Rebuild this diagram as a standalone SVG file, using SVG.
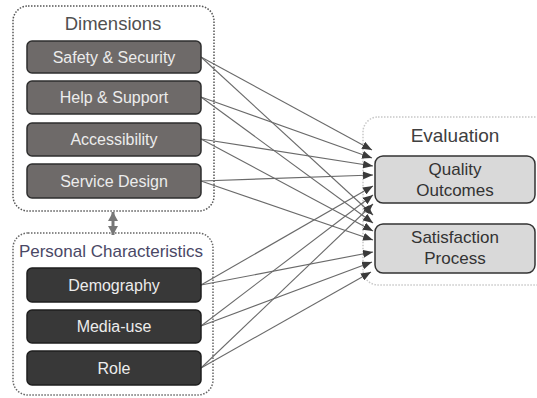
<svg xmlns="http://www.w3.org/2000/svg" width="537" height="398" viewBox="0 0 537 398">
<style>
.grp{fill:none;stroke-width:1.5;stroke-dasharray:1.5 1.5}
.ttl{font-family:"Liberation Sans",Arial,sans-serif;text-anchor:middle}
.dim rect{fill:#6e6a69;stroke:#2e2e2e;stroke-width:1.5}
.per rect{fill:#383838;stroke:#1e1e1e;stroke-width:1.5}
.eva rect{fill:#d9d9d9;stroke:#333;stroke-width:1.5}
.lt{font-family:"Liberation Sans",Arial,sans-serif;font-size:16px;text-anchor:middle;fill:#ececec}
.dt{font-family:"Liberation Sans",Arial,sans-serif;font-size:17px;text-anchor:middle;fill:#333}
.c{fill:none;stroke:#6a6a6a;stroke-width:1.1;marker-end:url(#ah)}
</style>
<defs>
<marker id="ah" markerWidth="10" markerHeight="8" refX="10" refY="4" orient="auto" markerUnits="userSpaceOnUse">
<path d="M0,0 L10,4 L0,8 Z" fill="#3a3a3a"/>
</marker>
<marker id="dh" markerWidth="9" markerHeight="10" refX="9" refY="5" orient="auto-start-reverse" markerUnits="userSpaceOnUse">
<path d="M0,0 L9,5 L0,10 Z" fill="#777"/>
</marker>
</defs>
<rect width="537" height="398" fill="#fff"/>

<g id="group-dimensions">
<rect class="grp" x="13" y="6" width="201" height="205" rx="15" stroke="#555"/>
<text class="ttl" x="113" y="30" font-size="18.5" fill="#505050">Dimensions</text>
</g>
<g id="group-personal">
<rect class="grp" x="13" y="233" width="200" height="162" rx="15" stroke="#666"/>
<text class="ttl" x="111" y="257" font-size="17" fill="#4a4866">Personal Characteristics</text>
</g>
<g id="group-evaluation">
<rect class="grp" x="363" y="117" width="190" height="168" rx="15" stroke="#c8c8c8"/>
<text class="ttl" x="455" y="142" font-size="19" fill="#404040">Evaluation</text>
</g>

<g id="connectors">
<path class="c" d="M201,57 L372,150"/>
<path class="c" d="M201,57 L373,215"/>
<path class="c" d="M201,97 L372,158"/>
<path class="c" d="M201,97 L373,223"/>
<path class="c" d="M201,139 L373,166"/>
<path class="c" d="M201,139 L373,231"/>
<path class="c" d="M201,181 L373,175"/>
<path class="c" d="M201,181 L373,240"/>
<path class="c" d="M201,285 L373,186"/>
<path class="c" d="M201,285 L373,252"/>
<path class="c" d="M201,326 L373,195"/>
<path class="c" d="M201,326 L372,262"/>
<path class="c" d="M201,368 L373,204"/>
<path class="c" d="M201,368 L371,272"/>
<line x1="113" y1="212" x2="113" y2="235" stroke="#777" stroke-width="3" marker-start="url(#dh)" marker-end="url(#dh)"/>
</g>

<g id="node-safety" class="dim"><rect x="27" y="41" width="174" height="32" rx="5"/><text class="lt" x="114" y="63">Safety &amp; Security</text></g>
<g id="node-help" class="dim"><rect x="27" y="81" width="174" height="33" rx="5"/><text class="lt" x="114" y="103">Help &amp; Support</text></g>
<g id="node-accessibility" class="dim"><rect x="27" y="123" width="174" height="33" rx="5"/><text class="lt" x="114" y="145">Accessibility</text></g>
<g id="node-service" class="dim"><rect x="27" y="164" width="174" height="34" rx="5"/><text class="lt" x="114" y="187">Service Design</text></g>

<g id="node-demography" class="per"><rect x="27" y="268" width="174" height="34" rx="5"/><text class="lt" x="114" y="291">Demography</text></g>
<g id="node-media" class="per"><rect x="27" y="310" width="174" height="33" rx="5"/><text class="lt" x="114" y="332">Media-use</text></g>
<g id="node-role" class="per"><rect x="27" y="351" width="174" height="34" rx="5"/><text class="lt" x="114" y="374">Role</text></g>

<g id="node-quality" class="eva"><rect x="375" y="156" width="160" height="47" rx="8"/><text class="dt" x="455" y="175">Quality</text><text class="dt" x="455" y="196">Outcomes</text></g>
<g id="node-satisfaction" class="eva"><rect x="375" y="224" width="160" height="49" rx="8"/><text class="dt" x="455" y="243">Satisfaction</text><text class="dt" x="455" y="264">Process</text></g>
</svg>
